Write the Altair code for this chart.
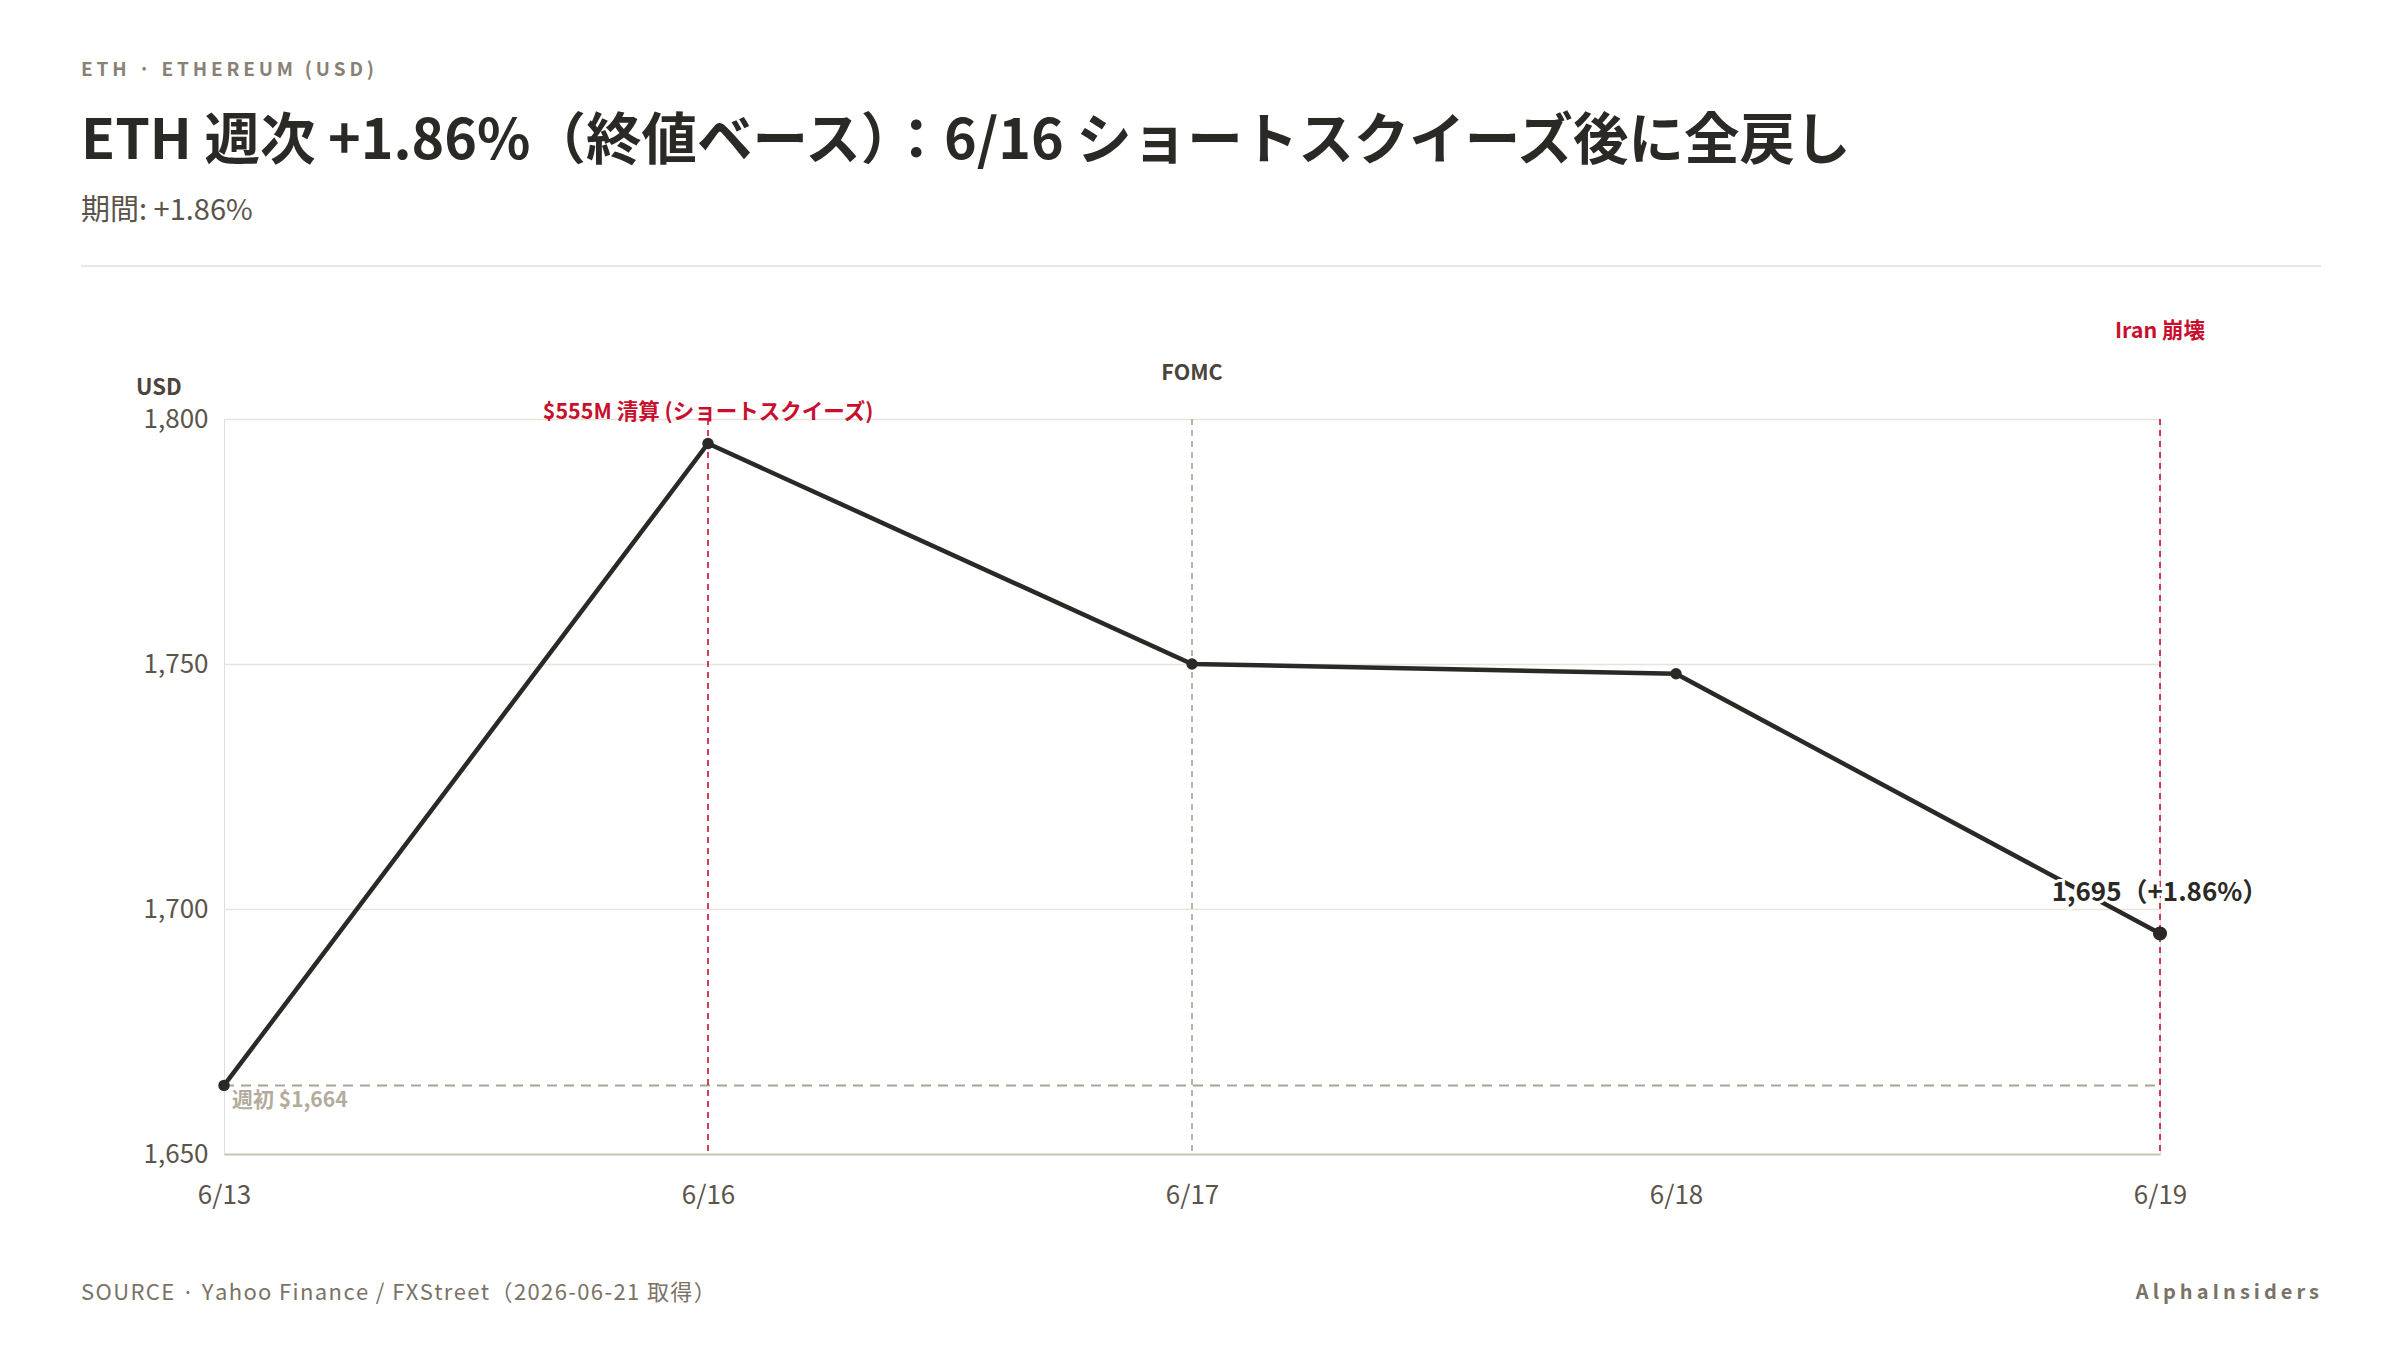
import altair as alt
import pandas as pd

# ---- data ----
dates = ["6/13", "6/16", "6/17", "6/18", "6/19"]
close = [1664, 1795, 1750, 1748, 1695]
y_ticks = [1650, 1700, 1750, 1800]

event_dates = ["6/16", "6/17", "6/19"]
event_labels = ["$555M 清算 (ショートスクイーズ)", "FOMC", "Iran 崩壊"]

kicker = "ETH · ETHEREUM (USD)"
title = "ETH 週次 +1.86%（終値ベース）：6/16 ショートスクイーズ後に全戻し"
subtitle = "期間: +1.86%"
source = "SOURCE · Yahoo Finance / FXStreet（2026-06-21 取得）"
brand = "AlphaInsiders"
y_title = "USD"
start_label = "週初 $1,664"
end_label = "1,695（+1.86%）"

FONT = "Noto Sans CJK JP"
W, H = 1936, 735
RED = "#c8102e"
DARK = "#2b2925"


def spaced(s, sep="\u2009"):
    return sep.join(list(s))


df = pd.DataFrame({"date": dates, "close": close})
x_axis = alt.Axis(title=None, labelAngle=0, ticks=False, grid=False, domain=True,
                  domainColor="#cbc5b8", domainWidth=2, labelFontSize=26, labelAlign="center",
                  labelColor="#5b544b", labelPadding=28, labelFont=FONT)
y_axis = alt.Axis(title=None, values=y_ticks, format=",.0f", ticks=False, domain=False,
                  grid=True, gridColor="#e8e4d9", gridWidth=1.5, labelFontSize=26,
                  labelColor="#5b544b", labelPadding=16, labelFont=FONT)
x_scale = alt.Scale(type="point", domain=dates, padding=0)
y_scale = alt.Scale(domain=[y_ticks[0], y_ticks[-1]], nice=False, zero=False)
xs = alt.X("date:N", sort=dates, scale=x_scale, axis=x_axis)
ys = alt.Y("close:Q", scale=y_scale, axis=y_axis)

base = alt.Chart(df)


def txt(text, x, y, **kw):
    return alt.Chart(pd.DataFrame({"t": [text]})).mark_text(font=FONT, **kw).encode(
        x=alt.value(x), y=alt.value(y), text="t:N")


line = base.mark_line(color=DARK, strokeWidth=4.5).encode(x=xs, y=ys)
pts = base.mark_point(filled=True, color=DARK, size=130, opacity=1).encode(x=xs, y=ys)
last = base.transform_filter(alt.datum.date == dates[-1]).mark_point(
    filled=True, color=DARK, size=200, opacity=1).encode(x=xs, y=ys)

# baseline dashed rule at opening price
baseline = alt.Chart(pd.DataFrame({"a": [0]})).mark_rule(
    color="#a9a296", strokeDash=[10, 7], strokeWidth=2).encode(
    x=alt.X("s:N", scale=x_scale, axis=x_axis), x2="e:N",
    y=alt.Y("v:Q", scale=y_scale, axis=y_axis)).transform_calculate(
    s=f"'{dates[0]}'", e=f"'{dates[-1]}'", v=str(close[0]))

# event rules
ev_colors = [RED, "#a8a296", RED]
ev_offsets = [5, -34, -76]
ev_text_colors = [RED, "#4a443c", RED]
ev_layers = []
for d, lab, c, off, tc in zip(event_dates, event_labels, ev_colors, ev_offsets, ev_text_colors):
    edf = pd.DataFrame({"date": [d], "label": [lab]})
    ev_layers.append(alt.Chart(edf).mark_rule(color=c, strokeDash=[6, 5], strokeWidth=1.6).encode(
        x=alt.X("date:N", scale=x_scale, axis=x_axis), y=alt.value(0), y2=alt.value(H)))
    ev_layers.append(alt.Chart(edf).mark_text(font=FONT, fontSize=21.5, fontWeight="bold", color=tc,
                                             baseline="bottom").encode(
        x=alt.X("date:N", scale=x_scale, axis=x_axis), y=alt.value(off), text="label:N"))

first_lab = base.transform_filter(alt.datum.date == dates[0]).mark_text(
    font=FONT, fontSize=21, fontWeight="bold", color="#b3ab9c", align="left", baseline="middle",
    dx=8, dy=16).encode(x=xs, y=ys, text=alt.value(start_label))

last_df = df[df.date == dates[-1]]
last_halo = alt.Chart(last_df).mark_text(
    font=FONT, fontSize=26, fontWeight="bold", color="white", stroke="white", strokeWidth=6,
    align="center", baseline="middle", dx=0, dy=-41).encode(
    x=xs, y=ys, text=alt.value(end_label))
last_lab = alt.Chart(last_df).mark_text(
    font=FONT, fontSize=26, fontWeight="bold", color=DARK,
    align="center", baseline="middle", dx=0, dy=-41).encode(
    x=xs, y=ys, text=alt.value(end_label))

header_rule = alt.Chart(pd.DataFrame({"a": [0]})).mark_rule(color="#e3dfd3", strokeWidth=1.5).encode(
    x=alt.value(-143), x2=alt.value(2097), y=alt.value(-153))

texts = [
    txt(spaced(kicker), -143, -349, fontSize=19, fontWeight="bold", color="#8a8175",
        align="left", baseline="middle"),
    txt(title, -143, -277, fontSize=55.5, fontWeight="bold", color=DARK, align="left",
        baseline="middle"),
    txt(subtitle, -143, -208, fontSize=29, color="#5b544b", align="left", baseline="middle"),
    txt(y_title, -88, -31, fontSize=22, fontWeight="bold", color="#4a443c", align="left",
        baseline="middle"),
    txt(spaced(source, "\u200a"), -143, 874, fontSize=22, color="#7a7266", align="left",
        baseline="middle"),
    txt(spaced(brand), 2095, 874, fontSize=20, fontWeight="bold", color="#7a7266",
        align="right", baseline="middle"),
]

chart = alt.layer(
    line, baseline, *ev_layers, pts, last, first_lab,
    last_halo, last_lab, header_rule, *texts
).properties(
    width=W, height=H,
    autosize=alt.AutoSizeParams(type="none"),
    padding={"left": 224, "top": 419, "right": 240, "bottom": 196},
    background="white",
).configure_view(stroke=None).configure(font=FONT)

chart.save("out.html", embed_options={"renderer": "svg", "actions": False})
